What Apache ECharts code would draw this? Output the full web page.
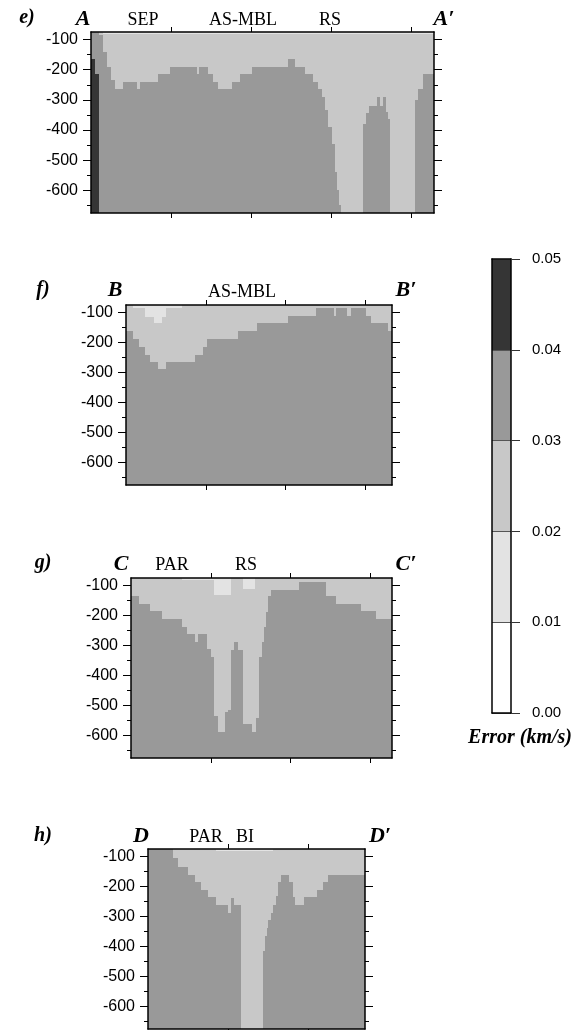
<!DOCTYPE html>
<html>
<head>
<meta charset="utf-8">
<title>Error cross-sections</title>
<script src="https://cdn.jsdelivr.net/npm/echarts@6/dist/echarts.min.js"></script>
<style>
  html, body { margin: 0; padding: 0; background: #fff; }
  #chart { width: 573px; height: 1030px; }
</style>
</head>
<body>
<div id="chart"></div>
<script>
// depth range of every section (km, plotted as negative numbers)
const depthTop = 75
const depthBottom = 675
const depthLabels = [-100, -200, -300, -400, -500, -600]
const depthMinor = [-150, -250, -350, -450, -550, -650]
const distTicks = [500, 1000, 1500, 2000]

// error classes (km/s) and their grey levels
const classEdges = [0, 0.01, 0.02, 0.03, 0.04, 0.05]
const classColors = ['#ffffff', '#e3e3e3', '#c8c8c8', '#999999', '#353535']

// rows: [from km, to km, base of 0.01-0.02, base of 0.02-0.03, base of 0.03-0.04]
// (last base left out = 0.03-0.04 goes to the bottom)
const sectionE = [
  [0, 25, 75, 75, 165], [25, 52, 75, 75, 215], [52, 77, 75, 85],
  [77, 102, 80, 140], [102, 127, 80, 190], [127, 152, 80, 235],
  [152, 202, 80, 265], [202, 285, 80, 240], [285, 306, 80, 265],
  [306, 421, 80, 240], [421, 494, 80, 215], [494, 660, 80, 190],
  [660, 677, 80, 215], [677, 733, 80, 190], [733, 765, 80, 215],
  [765, 796, 80, 240], [796, 879, 80, 265], [879, 931, 80, 240],
  [931, 1004, 80, 215], [1004, 1233, 80, 190], [1233, 1275, 80, 165],
  [1275, 1338, 80, 190], [1338, 1390, 80, 215], [1390, 1421, 80, 240],
  [1421, 1442, 80, 265], [1442, 1463, 80, 290], [1463, 1483, 80, 335],
  [1483, 1504, 80, 390], [1504, 1525, 80, 445], [1525, 1540, 80, 540],
  [1540, 1552, 80, 600], [1552, 1560, 80, 650], [1560, 1698, 80, 675],
  [1698, 1719, 80, 380], [1719, 1740, 80, 345], [1740, 1785, 80, 320],
  [1785, 1806, 80, 290], [1806, 1823, 80, 320], [1823, 1844, 80, 290],
  [1844, 1858, 80, 340], [1858, 1869, 80, 365], [1869, 2025, 80, 675],
  [2025, 2046, 80, 300], [2046, 2077, 80, 265], [2077, 2144, 80, 215]
]

const sectionF = [
  [0, 44, 75, 160], [44, 83, 86, 188], [83, 121, 86, 214],
  [121, 148, 114, 240], [148, 173, 114, 264], [173, 198, 136, 264],
  [198, 225, 136, 288], [225, 252, 114, 288], [252, 350, 86, 264],
  [350, 433, 75, 264], [433, 485, 75, 240], [485, 506, 75, 214],
  [506, 704, 75, 188], [704, 823, 75, 160], [823, 1017, 75, 136],
  [1017, 1190, 75, 112], [1190, 1302, 75, 86], [1302, 1315, 75, 112],
  [1315, 1385, 75, 86], [1385, 1413, 75, 112], [1413, 1502, 75, 86],
  [1502, 1538, 75, 112], [1538, 1642, 75, 136], [1642, 1667, 75, 160]
]

const sectionG = [
  [0, 48, 75, 136], [48, 121, 75, 161], [121, 194, 75, 185],
  [194, 319, 75, 211], [319, 350, 80, 238], [350, 402, 80, 261],
  [402, 423, 80, 288], [423, 475, 80, 261], [475, 500, 80, 311],
  [500, 521, 80, 338], [521, 548, 133, 535], [548, 589, 133, 588],
  [589, 611, 133, 520], [611, 627, 133, 515], [627, 646, 75, 316],
  [646, 673, 75, 288], [673, 700, 75, 316], [700, 705, 111, 470],
  [705, 756, 111, 560], [756, 777, 111, 588], [777, 783, 75, 588],
  [783, 804, 75, 540], [804, 819, 75, 338], [819, 833, 75, 288],
  [833, 846, 75, 238], [846, 861, 75, 188], [861, 875, 75, 136],
  [875, 1054, 75, 114], [1054, 1225, 75, 88], [1225, 1283, 75, 136],
  [1283, 1444, 75, 161], [1444, 1538, 75, 185], [1538, 1636, 75, 211]
]

const sectionH = [
  [0, 156, 75, 75], [156, 188, 75, 105], [188, 250, 75, 135],
  [250, 292, 75, 161], [292, 333, 75, 186], [333, 375, 75, 211],
  [375, 427, 75, 235], [427, 500, 80, 261], [500, 521, 80, 288],
  [521, 536, 80, 238], [536, 583, 80, 261], [583, 719, 80, 675],
  [719, 729, 80, 416], [729, 740, 80, 366], [740, 750, 80, 338],
  [750, 765, 80, 311], [765, 781, 80, 288], [781, 798, 75, 261],
  [798, 813, 75, 233], [813, 827, 75, 186], [827, 881, 75, 161],
  [881, 906, 75, 186], [906, 917, 75, 235], [917, 973, 75, 261],
  [973, 1052, 75, 235], [1052, 1090, 75, 211], [1090, 1125, 75, 186],
  [1125, 1354, 75, 161]
]

const sectionLengths = [2144, 1667, 1636, 1354]

const panels = [
  { rows: sectionE, box: { left: 91, top: 32, width: 343, height: 181 } },
  { rows: sectionF, box: { left: 126, top: 305, width: 266, height: 180 } },
  { rows: sectionG, box: { left: 131, top: 578, width: 261, height: 180 } },
  { rows: sectionH, box: { left: 148, top: 849, width: 217, height: 180 } }
]

const serif = '"Liberation Serif", "DejaVu Serif", serif'
const sans = '"Liberation Sans", Arial, sans-serif'

// turn the layer bases of each column into rectangles (one per class)
function toCells (rows) {
  const cells = []
  rows.forEach(r => {
    const bases = [depthTop, r[2], r[3], r.length > 4 ? r[4] : depthBottom, depthBottom]
    for (let k = 0; k < 4; k++) {
      if (bases[k + 1] > bases[k]) cells.push([r[0], r[1], -bases[k], -bases[k + 1], k + 1])
    }
  })
  return cells
}

function drawCell (params, api) {
  const a = api.coord([api.value(0), api.value(2)])
  const b = api.coord([api.value(1), api.value(3)])
  const x0 = Math.round(a[0])
  const x1 = Math.round(b[0])
  const y0 = Math.round(a[1])
  const y1 = Math.round(b[1])
  return {
    type: 'rect',
    shape: { x: x0, y: y0, width: x1 - x0, height: y1 - y0 },
    style: { fill: classColors[api.value(4)] }
  }
}

const line = { show: true, onZero: false, lineStyle: { color: '#000', width: 1.5 } }
const grid = []
const xAxis = []
const yAxis = []
const series = []

panels.forEach((p, i) => {
  grid.push(Object.assign({ containLabel: false }, p.box))
  const len = sectionLengths[i]
  const ticks = distTicks.filter(v => v < len)
  ;['top', 'bottom'].forEach(pos => {
    xAxis.push({
      gridIndex: i, type: 'value', min: 0, max: len, position: pos, z: 5,
      axisLine: line,
      axisTick: { show: true, customValues: ticks, length: 5, lineStyle: { color: '#000', width: 1 } },
      axisLabel: { show: false },
      splitLine: { show: false }
    })
  })
  ;['left', 'right'].forEach(pos => {
    yAxis.push({
      gridIndex: i, type: 'value', min: -depthBottom, max: -depthTop, position: pos, z: 5,
      axisLine: line,
      axisTick: { show: true, customValues: depthLabels, length: 8, lineStyle: { color: '#000', width: 1 } },
      axisLabel: {
        show: pos === 'left', customValues: depthLabels, margin: 13,
        fontFamily: sans, fontSize: 16, color: '#000'
      },
      splitLine: { show: false }
    })
    yAxis.push({
      gridIndex: i, type: 'value', min: -depthBottom, max: -depthTop, position: pos, z: 5,
      axisLine: { show: false, onZero: false },
      axisTick: { show: true, customValues: depthMinor, length: 4, lineStyle: { color: '#000', width: 1 } },
      axisLabel: { show: false },
      splitLine: { show: false }
    })
  })
  series.push({
    type: 'custom',
    xAxisIndex: i * 2,
    yAxisIndex: i * 4,
    renderItem: drawCell,
    clip: true,
    z: 1,
    encode: { x: [0, 1], y: [2, 3] },
    data: toCells(p.rows)
  })
})

// colour scale
const cb = grid.length
grid.push({ left: 492, top: 259, width: 19, height: 454 })
;['top', 'bottom'].forEach(pos => {
  xAxis.push({
    gridIndex: cb, type: 'value', min: 0, max: 1, position: pos, z: 5,
    axisLine: line, axisTick: { show: false }, axisLabel: { show: false }, splitLine: { show: false }
  })
})
yAxis.push({
  gridIndex: cb, type: 'value', min: 0, max: 0.05, interval: 0.01, position: 'right', z: 5,
  axisLine: line,
  axisTick: { show: true, length: 9, lineStyle: { color: '#333', width: 1 } },
  axisLabel: {
    margin: 21, fontFamily: sans, fontSize: 15, color: '#000',
    formatter: v => v.toFixed(2)
  },
  splitLine: { show: true, lineStyle: { color: '#555', width: 1 } }
})
yAxis.push({
  gridIndex: cb, type: 'value', min: 0, max: 0.05, position: 'left', z: 5,
  axisLine: line, axisTick: { show: false }, axisLabel: { show: false }, splitLine: { show: false }
})
series.push({
  type: 'custom',
  xAxisIndex: xAxis.length - 2,
  yAxisIndex: yAxis.length - 2,
  renderItem: drawCell,
  z: 1,
  encode: { x: [0, 1], y: [2, 3] },
  data: classColors.map((c, k) => [0, 1, classEdges[k + 1], classEdges[k], k])
})

function txt (x, y, text, font, size, weight, italic) {
  return {
    type: 'text', x: x, y: y, z: 10,
    style: {
      text: text, fill: '#000', align: 'center', verticalAlign: 'middle',
      fontFamily: font, fontSize: size, fontWeight: weight || 'normal',
      fontStyle: italic ? 'italic' : 'normal'
    }
  }
}

const graphic = [
  txt(27, 18, 'e)', serif, 20, 'bold', true),
  txt(83, 19, 'A', serif, 22, 'bold', true),
  txt(143, 20, 'SEP', serif, 18),
  txt(243, 20, 'AS-MBL', serif, 18),
  txt(330, 20, 'RS', serif, 18),
  txt(444, 19, 'A\u2032', serif, 22, 'bold', true),

  txt(43, 290, 'f)', serif, 20, 'bold', true),
  txt(115, 290, 'B', serif, 22, 'bold', true),
  txt(242, 292, 'AS-MBL', serif, 18),
  txt(406, 290, 'B\u2032', serif, 22, 'bold', true),

  txt(43, 563, 'g)', serif, 20, 'bold', true),
  txt(121, 564, 'C', serif, 22, 'bold', true),
  txt(172, 565, 'PAR', serif, 18),
  txt(246, 565, 'RS', serif, 18),
  txt(406, 564, 'C\u2032', serif, 22, 'bold', true),

  txt(43, 836, 'h)', serif, 20, 'bold', true),
  txt(141, 836, 'D', serif, 22, 'bold', true),
  txt(206, 837, 'PAR', serif, 18),
  txt(245, 837, 'BI', serif, 18),
  txt(380, 836, 'D\u2032', serif, 22, 'bold', true),

  txt(520, 738, 'Error (km/s)', serif, 20, 'bold', true)
]

const chart = echarts.init(document.getElementById('chart'))
chart.setOption({
  animation: false,
  backgroundColor: '#fff',
  grid: grid,
  xAxis: xAxis,
  yAxis: yAxis,
  series: series,
  graphic: graphic
})
</script>
</body>
</html>
